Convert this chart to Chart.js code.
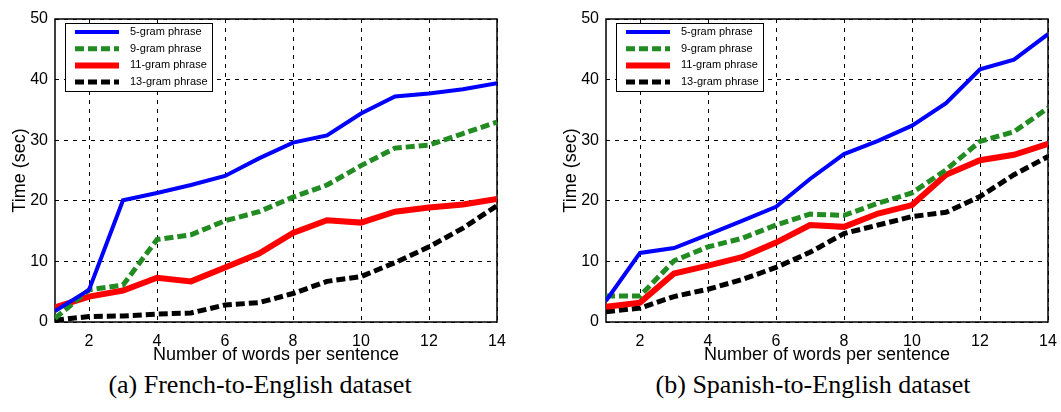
<!DOCTYPE html>
<html>
<head>
<meta charset="utf-8">
<title>Phrase lookup time per sentence length</title>
<script src="https://cdn.jsdelivr.net/npm/chart.js@4.4.0/dist/chart.umd.min.js"></script>
<style>
  html, body { margin: 0; padding: 0; background: #fff; }
  body { width: 1061px; height: 412px; position: relative; overflow: hidden; }
  .panel { position: absolute; top: 0; width: 525px; height: 370px; }
  .caption {
    position: absolute; top: 370px; line-height: 30px;
    font-family: 'Liberation Serif', 'Times New Roman', serif; font-size: 26px;
    color: #000; white-space: nowrap; transform: translateX(-50%);
  }
</style>
</head>
<body>
<div class="panel" style="left:0"><canvas id="frChart"></canvas></div>
<div class="panel" style="left:551px"><canvas id="esChart"></canvas></div>
<div class="caption" style="left:260px">(a) French-to-English dataset</div>
<div class="caption" style="left:813px">(b) Spanish-to-English dataset</div>
<script>
// sentence lengths (words) on the x axis
const wordCounts = [1, 2, 3, 4, 5, 6, 7, 8, 9, 10, 11, 12, 13, 14];
const xTickValues = [2, 4, 6, 8, 10, 12, 14];
const yTickValues = [0, 10, 20, 30, 40, 50];
const seriesLabels = ['5-gram phrase', '9-gram phrase', '11-gram phrase', '13-gram phrase'];

// French-to-English, time in seconds
const frFive     = [1.8, 5.3, 20.1, 21.3, 22.6, 24.1, 27.0, 29.6, 30.8, 34.4, 37.2, 37.7, 38.4, 39.4];
const frNine     = [0.6, 5.3, 6.1, 13.6, 14.4, 16.7, 18.2, 20.6, 22.6, 25.8, 28.7, 29.2, 31.1, 33.0];
const frEleven   = [2.4, 4.2, 5.2, 7.3, 6.7, 9.0, 11.3, 14.7, 16.8, 16.4, 18.2, 18.9, 19.4, 20.3];
const frThirteen = [0.3, 0.9, 1.0, 1.3, 1.5, 2.8, 3.2, 4.7, 6.7, 7.5, 9.8, 12.4, 15.5, 19.2];

// Spanish-to-English, time in seconds
const esFive     = [3.5, 11.4, 12.2, 14.4, 16.7, 19.0, 23.6, 27.7, 29.9, 32.4, 36.1, 41.7, 43.3, 47.5];
const esNine     = [4.3, 4.3, 10.1, 12.4, 13.8, 16.0, 17.8, 17.6, 19.6, 21.3, 25.1, 29.8, 31.4, 35.3];
const esEleven   = [2.5, 3.2, 8.0, 9.3, 10.7, 13.1, 16.0, 15.7, 17.9, 19.3, 24.3, 26.7, 27.6, 29.4];
const esThirteen = [1.7, 2.3, 4.2, 5.4, 7.0, 9.0, 11.5, 14.6, 16.0, 17.4, 18.1, 20.7, 24.3, 27.3];

const styles = [
  { color: '#0000ff', width: 4, dash: [] },
  { color: '#228b22', width: 5, dash: [9, 4] },
  { color: '#ff0000', width: 6, dash: [] },
  { color: '#000000', width: 5, dash: [9, 4] }
];

const sansFont = '"Liberation Sans", Arial, Helvetica, sans-serif';

// black frame around the plotting area
const frame = {
  id: 'frame',
  beforeDatasetsDraw(chart) {
    const { ctx, chartArea: a } = chart;
    ctx.save();
    ctx.strokeStyle = '#000';
    ctx.lineWidth = 1.5;
    ctx.strokeRect(a.left, a.top, a.right - a.left, a.bottom - a.top);
    ctx.restore();
  }
};

// boxed legend in the upper left corner of the plot
const boxLegend = {
  id: 'boxLegend',
  afterDatasetsDraw(chart) {
    const { ctx, chartArea } = chart;
    const x0 = chartArea.left + 10, y0 = chartArea.top + 4;
    ctx.save();
    ctx.fillStyle = '#fff';
    ctx.fillRect(x0, y0, 147, 68);
    ctx.strokeStyle = '#000';
    ctx.lineWidth = 1;
    ctx.strokeRect(x0 + 0.5, y0 + 0.5, 147, 68);
    chart.data.datasets.forEach((ds, i) => {
      const y = y0 + 9 + i * 16.7;
      ctx.beginPath();
      ctx.setLineDash(ds.borderDash);
      ctx.lineWidth = ds.borderWidth;
      ctx.strokeStyle = ds.borderColor;
      ctx.moveTo(x0 + 10, y);
      ctx.lineTo(x0 + 54, y);
      ctx.stroke();
      ctx.setLineDash([]);
      ctx.fillStyle = '#000';
      ctx.font = '11px ' + sansFont;
      ctx.textBaseline = 'middle';
      ctx.fillText(ds.label, x0 + 65, y);
    });
    ctx.restore();
  }
};

function makeChart(id, series) {
  const datasets = series.map((values, i) => ({
    label: seriesLabels[i],
    data: wordCounts.map((w, j) => ({ x: w, y: values[j] })),
    borderColor: styles[i].color,
    backgroundColor: styles[i].color,
    borderWidth: styles[i].width,
    borderDash: styles[i].dash,
    borderCapStyle: 'butt',
    pointRadius: 0,
    tension: 0,
    fill: false
  }));

  return new Chart(document.getElementById(id), {
    type: 'line',
    data: { datasets },
    plugins: [frame, boxLegend],
    options: {
      responsive: true,
      maintainAspectRatio: false,
      animation: false,
      layout: { padding: { top: 19, right: 28, left: 0, bottom: 0 } },
      plugins: { legend: { display: false }, tooltip: { enabled: false } },
      scales: {
        x: {
          type: 'linear',
          min: 1,
          max: 14,
          afterBuildTicks: s => { s.ticks = xTickValues.map(v => ({ value: v })); },
          afterFit: s => { s.height = 48; },
          border: { display: false, dash: [4, 5] },
          grid: { color: '#000', lineWidth: 1, drawTicks: false },
          ticks: { color: '#000', padding: 10, font: { family: sansFont, size: 16 }, maxRotation: 0 },
          title: {
            display: true, text: 'Number of words per sentence', color: '#000',
            font: { family: sansFont, size: 18 }, padding: { top: 0, bottom: 4 }
          }
        },
        y: {
          min: 0,
          max: 50,
          afterBuildTicks: s => { s.ticks = yTickValues.map(v => ({ value: v })); },
          afterFit: s => { s.width = 55; },
          border: { display: false, dash: [4, 5] },
          grid: { color: '#000', lineWidth: 1, drawTicks: false },
          ticks: { color: '#000', padding: 7, font: { family: sansFont, size: 16 } },
          title: {
            display: true, text: 'Time (sec)', color: '#000',
            font: { family: sansFont, size: 18 }, padding: { top: 9, bottom: 0 }
          }
        }
      }
    }
  });
}

const frChart = makeChart('frChart', [frFive, frNine, frEleven, frThirteen]);
const esChart = makeChart('esChart', [esFive, esNine, esEleven, esThirteen]);
</script>
</body>
</html>
